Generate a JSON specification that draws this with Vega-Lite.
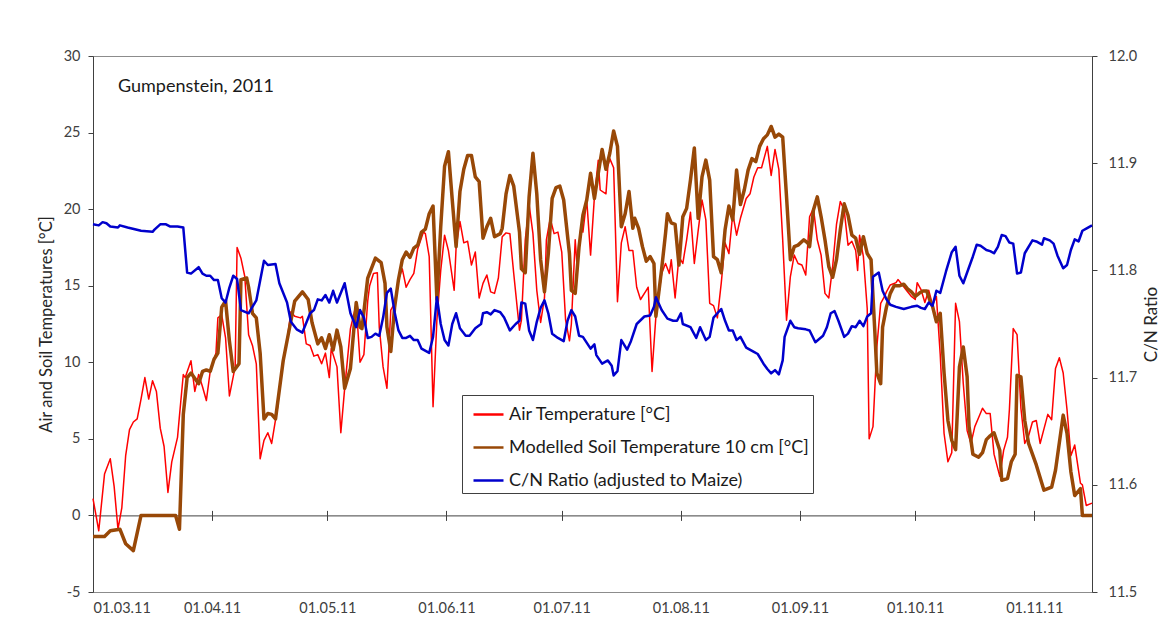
{
"$schema":"https://vega.github.io/schema/vega-lite/v6.json",
"width":999,"height":536,
"autosize":"none",
"padding":{"left":93,"top":56,"right":77,"bottom":41},
"config":{
"font":"Lato",
"view":{"stroke":"#8c8c8c"},
"axis":{"grid":false,"labelFont":"Lato","labelFontSize":14.5,"labelColor":"#404040","titleFont":"Lato","titleFontSize":16.5,"titleFontWeight":"normal","titleColor":"#262626","domainColor":"#404040","tickColor":"#404040"},
"legend":{"labelFont":"Lato","labelFontSize":18,"labelColor":"#1a1a1a","symbolType":"stroke","symbolSize":900,"symbolStrokeWidth":2.5,"padding":3,"rowPadding":7,"symbolOffset":7,"labelOffset":4,"strokeColor":"#404040","fillColor":"#ffffff","labelLimit":500}
},
"datasets":{
"air":[{"d":"2011-03-01","v":1.1},{"d":"2011-03-02T12:00Z","v":-1.0},{"d":"2011-03-04","v":2.7},{"d":"2011-03-05T12:00Z","v":3.7},{"d":"2011-03-06T12:00Z","v":1.9},{"d":"2011-03-07T12:00Z","v":-0.9},{"d":"2011-03-08T12:00Z","v":0.5},{"d":"2011-03-09T12:00Z","v":3.9},{"d":"2011-03-10T12:00Z","v":5.6},{"d":"2011-03-11T12:00Z","v":6.1},{"d":"2011-03-12T12:00Z","v":6.3},{"d":"2011-03-13T12:00Z","v":7.6},{"d":"2011-03-14T12:00Z","v":9.0},{"d":"2011-03-15T12:00Z","v":7.6},{"d":"2011-03-16T12:00Z","v":8.8},{"d":"2011-03-17T12:00Z","v":8.1},{"d":"2011-03-18T12:00Z","v":5.7},{"d":"2011-03-19T12:00Z","v":4.5},{"d":"2011-03-20T12:00Z","v":1.5},{"d":"2011-03-21T12:00Z","v":3.5},{"d":"2011-03-23","v":5.1},{"d":"2011-03-23T12:00Z","v":6.5},{"d":"2011-03-24T12:00Z","v":9.2},{"d":"2011-03-25","v":9.0},{"d":"2011-03-26T12:00Z","v":10.1},{"d":"2011-03-27T12:00Z","v":8.1},{"d":"2011-03-28T12:00Z","v":9.2},{"d":"2011-03-29T12:00Z","v":8.4},{"d":"2011-03-30T12:00Z","v":7.5},{"d":"2011-03-31T12:00Z","v":9.4},{"d":"2011-04-02","v":10.6},{"d":"2011-04-02T12:00Z","v":12.9},{"d":"2011-04-03T12:00Z","v":13.1},{"d":"2011-04-04T12:00Z","v":11.6},{"d":"2011-04-05T12:00Z","v":7.8},{"d":"2011-04-07","v":9.7},{"d":"2011-04-07T12:00Z","v":17.5},{"d":"2011-04-08T12:00Z","v":16.8},{"d":"2011-04-09T12:00Z","v":15.6},{"d":"2011-04-10T12:00Z","v":11.8},{"d":"2011-04-11T12:00Z","v":11.1},{"d":"2011-04-12T12:00Z","v":9.9},{"d":"2011-04-13T12:00Z","v":3.7},{"d":"2011-04-14T12:00Z","v":4.9},{"d":"2011-04-15T12:00Z","v":5.4},{"d":"2011-04-16T12:00Z","v":4.7},{"d":"2011-04-18","v":7.0},{"d":"2011-04-19","v":9.3},{"d":"2011-04-20T12:00Z","v":11.4},{"d":"2011-04-21T12:00Z","v":13.3},{"d":"2011-04-22T12:00Z","v":13.0},{"d":"2011-04-24","v":12.9},{"d":"2011-04-24T12:00Z","v":13.0},{"d":"2011-04-25T12:00Z","v":11.2},{"d":"2011-04-26T12:00Z","v":11.1},{"d":"2011-04-27T12:00Z","v":10.4},{"d":"2011-04-28T12:00Z","v":10.5},{"d":"2011-04-29T12:00Z","v":9.9},{"d":"2011-04-30T12:00Z","v":10.6},{"d":"2011-05-01T12:00Z","v":9.0},{"d":"2011-05-02","v":10.9},{"d":"2011-05-03T12:00Z","v":9.7},{"d":"2011-05-04T12:00Z","v":5.4},{"d":"2011-05-05T12:00Z","v":8.3},{"d":"2011-05-07","v":12.2},{"d":"2011-05-08T12:00Z","v":13.8},{"d":"2011-05-09T12:00Z","v":10.0},{"d":"2011-05-10T12:00Z","v":10.5},{"d":"2011-05-11T12:00Z","v":14.0},{"d":"2011-05-12","v":15.0},{"d":"2011-05-13","v":15.8},{"d":"2011-05-14","v":15.85},{"d":"2011-05-14T12:00Z","v":12.3},{"d":"2011-05-15T12:00Z","v":9.7},{"d":"2011-05-16T12:00Z","v":8.3},{"d":"2011-05-17T12:00Z","v":13.4},{"d":"2011-05-18T12:00Z","v":13.85},{"d":"2011-05-19T12:00Z","v":15.4},{"d":"2011-05-20T12:00Z","v":16.1},{"d":"2011-05-21T12:00Z","v":14.9},{"d":"2011-05-22T12:00Z","v":15.4},{"d":"2011-05-23T12:00Z","v":15.8},{"d":"2011-05-24T12:00Z","v":17.4},{"d":"2011-05-26","v":18.5},{"d":"2011-05-26T12:00Z","v":18.4},{"d":"2011-05-27T12:00Z","v":16.9},{"d":"2011-05-28T12:00Z","v":7.1},{"d":"2011-05-29T12:00Z","v":12.75},{"d":"2011-05-30T12:00Z","v":16.0},{"d":"2011-05-31T12:00Z","v":18.3},{"d":"2011-06-01T12:00Z","v":17.3},{"d":"2011-06-03","v":14.7},{"d":"2011-06-03T12:00Z","v":17.5},{"d":"2011-06-04T12:00Z","v":19.2},{"d":"2011-06-05T12:00Z","v":17.8},{"d":"2011-06-06T12:00Z","v":17.9},{"d":"2011-06-07T12:00Z","v":16.35},{"d":"2011-06-08T12:00Z","v":17.2},{"d":"2011-06-09T12:00Z","v":14.2},{"d":"2011-06-10T12:00Z","v":15.15},{"d":"2011-06-11T12:00Z","v":15.7},{"d":"2011-06-12T12:00Z","v":14.6},{"d":"2011-06-13T12:00Z","v":14.5},{"d":"2011-06-14T12:00Z","v":15.5},{"d":"2011-06-15T12:00Z","v":18.2},{"d":"2011-06-16T12:00Z","v":18.45},{"d":"2011-06-17T12:00Z","v":18.4},{"d":"2011-06-18T12:00Z","v":15.8},{"d":"2011-06-20","v":12.1},{"d":"2011-06-20T12:00Z","v":12.75},{"d":"2011-06-21T12:00Z","v":18.0},{"d":"2011-06-22T12:00Z","v":20.3},{"d":"2011-06-23T12:00Z","v":18.4},{"d":"2011-06-24T12:00Z","v":14.7},{"d":"2011-06-25T12:00Z","v":12.6},{"d":"2011-06-26T12:00Z","v":14.2},{"d":"2011-06-27","v":18.0},{"d":"2011-06-28","v":19.4},{"d":"2011-06-29","v":18.4},{"d":"2011-06-30","v":18.5},{"d":"2011-07-01","v":17.2},{"d":"2011-07-02","v":12.75},{"d":"2011-07-03","v":11.4},{"d":"2011-07-03T12:00Z","v":12.5},{"d":"2011-07-04T12:00Z","v":18.0},{"d":"2011-07-05","v":16.2},{"d":"2011-07-06","v":18.85},{"d":"2011-07-06T12:00Z","v":18.5},{"d":"2011-07-07T12:00Z","v":20.6},{"d":"2011-07-08T12:00Z","v":17.0},{"d":"2011-07-09T12:00Z","v":20.8},{"d":"2011-07-10T12:00Z","v":23.2},{"d":"2011-07-11","v":21.25},{"d":"2011-07-12T12:00Z","v":21.0},{"d":"2011-07-13","v":22.8},{"d":"2011-07-13T12:00Z","v":23.3},{"d":"2011-07-14T12:00Z","v":22.7},{"d":"2011-07-15T12:00Z","v":13.95},{"d":"2011-07-16T12:00Z","v":17.8},{"d":"2011-07-17T12:00Z","v":18.85},{"d":"2011-07-18T12:00Z","v":17.3},{"d":"2011-07-19T12:00Z","v":17.3},{"d":"2011-07-20T12:00Z","v":14.9},{"d":"2011-07-21T12:00Z","v":14.1},{"d":"2011-07-23","v":14.7},{"d":"2011-07-23T12:00Z","v":14.9},{"d":"2011-07-24T12:00Z","v":9.4},{"d":"2011-07-25T12:00Z","v":13.0},{"d":"2011-07-27","v":15.8},{"d":"2011-07-28","v":16.45},{"d":"2011-07-29","v":15.8},{"d":"2011-07-29T12:00Z","v":16.7},{"d":"2011-07-30T12:00Z","v":14.2},{"d":"2011-07-31T12:00Z","v":16.9},{"d":"2011-08-01T12:00Z","v":16.45},{"d":"2011-08-02T12:00Z","v":18.0},{"d":"2011-08-03T12:00Z","v":19.8},{"d":"2011-08-04T12:00Z","v":16.45},{"d":"2011-08-05T12:00Z","v":18.6},{"d":"2011-08-06T12:00Z","v":20.6},{"d":"2011-08-07T12:00Z","v":19.3},{"d":"2011-08-08T12:00Z","v":13.85},{"d":"2011-08-09T12:00Z","v":13.7},{"d":"2011-08-10T12:00Z","v":12.9},{"d":"2011-08-11T12:00Z","v":15.15},{"d":"2011-08-12T12:00Z","v":17.8},{"d":"2011-08-13T12:00Z","v":17.1},{"d":"2011-08-14T12:00Z","v":19.7},{"d":"2011-08-15T12:00Z","v":18.3},{"d":"2011-08-16T12:00Z","v":19.4},{"d":"2011-08-18","v":20.7},{"d":"2011-08-19","v":21.0},{"d":"2011-08-20","v":22.1},{"d":"2011-08-21","v":22.7},{"d":"2011-08-22","v":22.7},{"d":"2011-08-23T12:00Z","v":24.1},{"d":"2011-08-24T12:00Z","v":22.2},{"d":"2011-08-25T12:00Z","v":23.9},{"d":"2011-08-26T12:00Z","v":22.6},{"d":"2011-08-27T12:00Z","v":18.0},{"d":"2011-08-28T12:00Z","v":12.75},{"d":"2011-08-29T12:00Z","v":15.6},{"d":"2011-08-30T12:00Z","v":17.0},{"d":"2011-08-31T12:00Z","v":16.45},{"d":"2011-09-01T12:00Z","v":16.35},{"d":"2011-09-02T12:00Z","v":15.7},{"d":"2011-09-03T12:00Z","v":19.5},{"d":"2011-09-04T12:00Z","v":20.05},{"d":"2011-09-05T12:00Z","v":18.0},{"d":"2011-09-06T12:00Z","v":17.0},{"d":"2011-09-07T12:00Z","v":14.5},{"d":"2011-09-08T12:00Z","v":14.2},{"d":"2011-09-09T12:00Z","v":16.25},{"d":"2011-09-10T12:00Z","v":19.0},{"d":"2011-09-11T12:00Z","v":20.5},{"d":"2011-09-12T12:00Z","v":19.95},{"d":"2011-09-13T12:00Z","v":17.65},{"d":"2011-09-14T12:00Z","v":17.9},{"d":"2011-09-15T12:00Z","v":17.3},{"d":"2011-09-16","v":16.0},{"d":"2011-09-16T12:00Z","v":18.3},{"d":"2011-09-17T12:00Z","v":16.9},{"d":"2011-09-18T12:00Z","v":13.5},{"d":"2011-09-19","v":5.0},{"d":"2011-09-20","v":5.8},{"d":"2011-09-21","v":11.0},{"d":"2011-09-22","v":13.85},{"d":"2011-09-23","v":14.3},{"d":"2011-09-23T12:00Z","v":14.6},{"d":"2011-09-24T12:00Z","v":15.05},{"d":"2011-09-26","v":15.2},{"d":"2011-09-26T12:00Z","v":15.4},{"d":"2011-09-27T12:00Z","v":15.1},{"d":"2011-09-29","v":14.6},{"d":"2011-09-30","v":14.3},{"d":"2011-10-01","v":14.1},{"d":"2011-10-01T12:00Z","v":15.2},{"d":"2011-10-02T12:00Z","v":14.75},{"d":"2011-10-03T12:00Z","v":13.9},{"d":"2011-10-04T12:00Z","v":14.7},{"d":"2011-10-05T12:00Z","v":13.75},{"d":"2011-10-06T12:00Z","v":14.3},{"d":"2011-10-07T12:00Z","v":10.5},{"d":"2011-10-08T12:00Z","v":5.35},{"d":"2011-10-09T12:00Z","v":3.5},{"d":"2011-10-10T12:00Z","v":4.1},{"d":"2011-10-11T12:00Z","v":13.85},{"d":"2011-10-12T12:00Z","v":12.65},{"d":"2011-10-13T12:00Z","v":8.6},{"d":"2011-10-14T12:00Z","v":5.55},{"d":"2011-10-15T12:00Z","v":4.7},{"d":"2011-10-16T12:00Z","v":5.8},{"d":"2011-10-17T12:00Z","v":6.4},{"d":"2011-10-18T12:00Z","v":7.0},{"d":"2011-10-19T12:00Z","v":6.65},{"d":"2011-10-20T12:00Z","v":6.65},{"d":"2011-10-21T12:00Z","v":4.0},{"d":"2011-10-23","v":2.55},{"d":"2011-10-24","v":4.25},{"d":"2011-10-25","v":5.1},{"d":"2011-10-25T12:00Z","v":6.9},{"d":"2011-10-26T12:00Z","v":12.2},{"d":"2011-10-27T12:00Z","v":11.8},{"d":"2011-10-28T12:00Z","v":7.0},{"d":"2011-10-29T12:00Z","v":4.7},{"d":"2011-10-30T12:00Z","v":5.2},{"d":"2011-10-31T12:00Z","v":6.1},{"d":"2011-11-01T12:00Z","v":6.2},{"d":"2011-11-02T12:00Z","v":4.7},{"d":"2011-11-03T12:00Z","v":5.65},{"d":"2011-11-04T12:00Z","v":6.6},{"d":"2011-11-05T12:00Z","v":6.25},{"d":"2011-11-06T12:00Z","v":9.6},{"d":"2011-11-07T12:00Z","v":10.3},{"d":"2011-11-08T12:00Z","v":9.3},{"d":"2011-11-09T12:00Z","v":6.9},{"d":"2011-11-10T12:00Z","v":3.9},{"d":"2011-11-11T12:00Z","v":4.6},{"d":"2011-11-13","v":2.1},{"d":"2011-11-13T12:00Z","v":2.0},{"d":"2011-11-14T12:00Z","v":0.65},{"d":"2011-11-16","v":0.8}],
"soil":[{"d":"2011-03-01","v":-1.37},{"d":"2011-03-04","v":-1.37},{"d":"2011-03-05T12:00Z","v":-1.0},{"d":"2011-03-08","v":-0.9},{"d":"2011-03-09T12:00Z","v":-1.85},{"d":"2011-03-11T12:00Z","v":-2.3},{"d":"2011-03-13T12:00Z","v":0},{"d":"2011-03-22T12:00Z","v":0},{"d":"2011-03-23T12:00Z","v":-0.9},{"d":"2011-03-24T12:00Z","v":6.6},{"d":"2011-03-25T12:00Z","v":9.0},{"d":"2011-03-26T12:00Z","v":9.3},{"d":"2011-03-28T12:00Z","v":8.6},{"d":"2011-03-29T12:00Z","v":9.4},{"d":"2011-03-30T12:00Z","v":9.5},{"d":"2011-03-31T12:00Z","v":9.4},{"d":"2011-04-01T12:00Z","v":10.2},{"d":"2011-04-02T12:00Z","v":10.6},{"d":"2011-04-03T12:00Z","v":13.6},{"d":"2011-04-04T12:00Z","v":14.0},{"d":"2011-04-05T12:00Z","v":11.4},{"d":"2011-04-06T12:00Z","v":9.4},{"d":"2011-04-08","v":9.9},{"d":"2011-04-08T12:00Z","v":15.4},{"d":"2011-04-10","v":15.5},{"d":"2011-04-10T12:00Z","v":14.9},{"d":"2011-04-11T12:00Z","v":13.2},{"d":"2011-04-12T12:00Z","v":12.9},{"d":"2011-04-13T12:00Z","v":10.6},{"d":"2011-04-14T12:00Z","v":6.3},{"d":"2011-04-15T12:00Z","v":6.65},{"d":"2011-04-16T12:00Z","v":6.6},{"d":"2011-04-17T12:00Z","v":6.3},{"d":"2011-04-19T12:00Z","v":10.1},{"d":"2011-04-22T12:00Z","v":14.0},{"d":"2011-04-24T12:00Z","v":14.6},{"d":"2011-04-26","v":14.1},{"d":"2011-04-27","v":12.6},{"d":"2011-04-28T12:00Z","v":11.2},{"d":"2011-04-29T12:00Z","v":11.6},{"d":"2011-04-30T12:00Z","v":10.9},{"d":"2011-05-01T12:00Z","v":11.8},{"d":"2011-05-02T12:00Z","v":10.8},{"d":"2011-05-03T12:00Z","v":12.1},{"d":"2011-05-04T12:00Z","v":11.0},{"d":"2011-05-05T12:00Z","v":8.3},{"d":"2011-05-07","v":9.6},{"d":"2011-05-08T12:00Z","v":13.9},{"d":"2011-05-09T12:00Z","v":12.3},{"d":"2011-05-10","v":12.2},{"d":"2011-05-11T12:00Z","v":15.5},{"d":"2011-05-13T12:00Z","v":16.8},{"d":"2011-05-15","v":16.5},{"d":"2011-05-16","v":15.15},{"d":"2011-05-16T12:00Z","v":12.3},{"d":"2011-05-17T12:00Z","v":10.7},{"d":"2011-05-18T12:00Z","v":13.6},{"d":"2011-05-19T12:00Z","v":15.4},{"d":"2011-05-20T12:00Z","v":16.7},{"d":"2011-05-21T12:00Z","v":17.2},{"d":"2011-05-22T12:00Z","v":16.85},{"d":"2011-05-23T12:00Z","v":17.45},{"d":"2011-05-24T12:00Z","v":17.65},{"d":"2011-05-25T12:00Z","v":18.5},{"d":"2011-05-26T12:00Z","v":18.7},{"d":"2011-05-27T12:00Z","v":19.7},{"d":"2011-05-28T12:00Z","v":20.2},{"d":"2011-05-29T12:00Z","v":14.1},{"d":"2011-05-30T12:00Z","v":18.85},{"d":"2011-05-31T12:00Z","v":22.8},{"d":"2011-06-01T12:00Z","v":23.75},{"d":"2011-06-02T12:00Z","v":20.6},{"d":"2011-06-03T12:00Z","v":17.55},{"d":"2011-06-04T12:00Z","v":21.15},{"d":"2011-06-05T12:00Z","v":22.6},{"d":"2011-06-06T12:00Z","v":23.5},{"d":"2011-06-07T12:00Z","v":23.5},{"d":"2011-06-08T12:00Z","v":22.1},{"d":"2011-06-09T12:00Z","v":21.8},{"d":"2011-06-10T12:00Z","v":18.1},{"d":"2011-06-11T12:00Z","v":18.85},{"d":"2011-06-12T12:00Z","v":19.4},{"d":"2011-06-13T12:00Z","v":18.2},{"d":"2011-06-15","v":18.4},{"d":"2011-06-15T12:00Z","v":18.75},{"d":"2011-06-16T12:00Z","v":21.0},{"d":"2011-06-17T12:00Z","v":22.2},{"d":"2011-06-18T12:00Z","v":21.5},{"d":"2011-06-20","v":18.5},{"d":"2011-06-20T12:00Z","v":16.1},{"d":"2011-06-21T12:00Z","v":15.85},{"d":"2011-06-22T12:00Z","v":20.8},{"d":"2011-06-23T12:00Z","v":23.65},{"d":"2011-06-24T12:00Z","v":21.0},{"d":"2011-06-25T12:00Z","v":16.7},{"d":"2011-06-26T12:00Z","v":14.6},{"d":"2011-06-27T12:00Z","v":17.1},{"d":"2011-06-28T12:00Z","v":20.7},{"d":"2011-06-29T12:00Z","v":21.4},{"d":"2011-06-30T12:00Z","v":21.5},{"d":"2011-07-01T12:00Z","v":20.6},{"d":"2011-07-03","v":17.1},{"d":"2011-07-03T12:00Z","v":14.7},{"d":"2011-07-04T12:00Z","v":14.5},{"d":"2011-07-05T12:00Z","v":17.55},{"d":"2011-07-06T12:00Z","v":19.6},{"d":"2011-07-07T12:00Z","v":20.6},{"d":"2011-07-08T12:00Z","v":22.35},{"d":"2011-07-09T12:00Z","v":20.7},{"d":"2011-07-10T12:00Z","v":22.35},{"d":"2011-07-11T12:00Z","v":23.9},{"d":"2011-07-12T12:00Z","v":22.6},{"d":"2011-07-13T12:00Z","v":23.65},{"d":"2011-07-14T12:00Z","v":25.1},{"d":"2011-07-15T12:00Z","v":24.1},{"d":"2011-07-16T12:00Z","v":18.85},{"d":"2011-07-17T12:00Z","v":19.7},{"d":"2011-07-18T12:00Z","v":21.15},{"d":"2011-07-19T12:00Z","v":18.75},{"d":"2011-07-20","v":19.4},{"d":"2011-07-21","v":18.75},{"d":"2011-07-22","v":17.55},{"d":"2011-07-23","v":16.6},{"d":"2011-07-24","v":16.9},{"d":"2011-07-25","v":16.45},{"d":"2011-07-25T12:00Z","v":13.0},{"d":"2011-07-27","v":16.1},{"d":"2011-07-28","v":18.4},{"d":"2011-07-28T12:00Z","v":19.7},{"d":"2011-07-29T12:00Z","v":19.1},{"d":"2011-07-30T12:00Z","v":19.0},{"d":"2011-07-31T12:00Z","v":16.35},{"d":"2011-08-01T12:00Z","v":19.5},{"d":"2011-08-02T12:00Z","v":20.05},{"d":"2011-08-03T12:00Z","v":21.9},{"d":"2011-08-04T12:00Z","v":24.0},{"d":"2011-08-05T12:00Z","v":19.4},{"d":"2011-08-06T12:00Z","v":22.1},{"d":"2011-08-07T12:00Z","v":23.2},{"d":"2011-08-08T12:00Z","v":21.9},{"d":"2011-08-09T12:00Z","v":16.9},{"d":"2011-08-10T12:00Z","v":16.7},{"d":"2011-08-11T12:00Z","v":15.85},{"d":"2011-08-12T12:00Z","v":18.65},{"d":"2011-08-13T12:00Z","v":20.2},{"d":"2011-08-14T12:00Z","v":19.3},{"d":"2011-08-15T12:00Z","v":22.55},{"d":"2011-08-16T12:00Z","v":20.3},{"d":"2011-08-17T12:00Z","v":21.25},{"d":"2011-08-18T12:00Z","v":22.55},{"d":"2011-08-19T12:00Z","v":23.3},{"d":"2011-08-20T12:00Z","v":23.1},{"d":"2011-08-21T12:00Z","v":24.1},{"d":"2011-08-22T12:00Z","v":24.6},{"d":"2011-08-23T12:00Z","v":24.85},{"d":"2011-08-24T12:00Z","v":25.4},{"d":"2011-08-25T12:00Z","v":24.7},{"d":"2011-08-26T12:00Z","v":24.9},{"d":"2011-08-27T12:00Z","v":24.7},{"d":"2011-08-28T12:00Z","v":20.8},{"d":"2011-08-29T12:00Z","v":16.7},{"d":"2011-08-30T12:00Z","v":17.55},{"d":"2011-08-31T12:00Z","v":17.65},{"d":"2011-09-02","v":18.0},{"d":"2011-09-03","v":17.8},{"d":"2011-09-03T12:00Z","v":17.55},{"d":"2011-09-04T12:00Z","v":19.95},{"d":"2011-09-05T12:00Z","v":20.8},{"d":"2011-09-06T12:00Z","v":19.5},{"d":"2011-09-07T12:00Z","v":18.0},{"d":"2011-09-08T12:00Z","v":16.25},{"d":"2011-09-09T12:00Z","v":15.55},{"d":"2011-09-10T12:00Z","v":16.7},{"d":"2011-09-11T12:00Z","v":18.65},{"d":"2011-09-12T12:00Z","v":20.35},{"d":"2011-09-13T12:00Z","v":19.6},{"d":"2011-09-14T12:00Z","v":18.3},{"d":"2011-09-15T12:00Z","v":18.1},{"d":"2011-09-16T12:00Z","v":17.05},{"d":"2011-09-17T12:00Z","v":18.2},{"d":"2011-09-18T12:00Z","v":17.1},{"d":"2011-09-19T12:00Z","v":16.7},{"d":"2011-09-20T12:00Z","v":11.9},{"d":"2011-09-21","v":9.3},{"d":"2011-09-22","v":8.6},{"d":"2011-09-22T12:00Z","v":12.3},{"d":"2011-09-23T12:00Z","v":13.6},{"d":"2011-09-24T12:00Z","v":14.5},{"d":"2011-09-25T12:00Z","v":15.0},{"d":"2011-09-27","v":15.0},{"d":"2011-09-28","v":15.1},{"d":"2011-09-29","v":14.8},{"d":"2011-09-30","v":14.6},{"d":"2011-10-01","v":14.3},{"d":"2011-10-02","v":14.5},{"d":"2011-10-03","v":14.65},{"d":"2011-10-04","v":14.65},{"d":"2011-10-05","v":13.9},{"d":"2011-10-05T12:00Z","v":13.65},{"d":"2011-10-06T12:00Z","v":12.65},{"d":"2011-10-07T12:00Z","v":13.2},{"d":"2011-10-08T12:00Z","v":9.3},{"d":"2011-10-09T12:00Z","v":6.2},{"d":"2011-10-10T12:00Z","v":4.9},{"d":"2011-10-11T12:00Z","v":4.3},{"d":"2011-10-12T12:00Z","v":9.7},{"d":"2011-10-13T12:00Z","v":11.0},{"d":"2011-10-14T12:00Z","v":9.05},{"d":"2011-10-15","v":5.8},{"d":"2011-10-16","v":4.0},{"d":"2011-10-17T12:00Z","v":3.8},{"d":"2011-10-18T12:00Z","v":4.1},{"d":"2011-10-19T12:00Z","v":4.95},{"d":"2011-10-20T12:00Z","v":5.2},{"d":"2011-10-21T12:00Z","v":5.4},{"d":"2011-10-23","v":4.25},{"d":"2011-10-23T12:00Z","v":2.3},{"d":"2011-10-25","v":2.4},{"d":"2011-10-26","v":3.5},{"d":"2011-10-27","v":4.0},{"d":"2011-10-27T12:00Z","v":9.15},{"d":"2011-10-28T12:00Z","v":9.05},{"d":"2011-10-29T12:00Z","v":6.2},{"d":"2011-10-30T12:00Z","v":4.7},{"d":"2011-10-31T12:00Z","v":4.0},{"d":"2011-11-01T12:00Z","v":3.3},{"d":"2011-11-03T12:00Z","v":1.65},{"d":"2011-11-05T12:00Z","v":1.85},{"d":"2011-11-06T12:00Z","v":2.95},{"d":"2011-11-08T12:00Z","v":6.55},{"d":"2011-11-09T12:00Z","v":5.35},{"d":"2011-11-10T12:00Z","v":2.85},{"d":"2011-11-11T12:00Z","v":1.3},{"d":"2011-11-13","v":1.75},{"d":"2011-11-13T12:00Z","v":0},{"d":"2011-11-16","v":0}],
"cn":[{"d":"2011-03-01","v":11.843},{"d":"2011-03-02T12:00Z","v":11.842},{"d":"2011-03-03T12:00Z","v":11.845},{"d":"2011-03-04T12:00Z","v":11.844},{"d":"2011-03-05T12:00Z","v":11.841},{"d":"2011-03-07T12:00Z","v":11.84},{"d":"2011-03-08","v":11.842},{"d":"2011-03-10","v":11.84},{"d":"2011-03-13T12:00Z","v":11.837},{"d":"2011-03-16T12:00Z","v":11.836},{"d":"2011-03-17","v":11.838},{"d":"2011-03-18T12:00Z","v":11.843},{"d":"2011-03-20","v":11.843},{"d":"2011-03-21","v":11.841},{"d":"2011-03-23","v":11.841},{"d":"2011-03-24T12:00Z","v":11.84},{"d":"2011-03-25T12:00Z","v":11.798},{"d":"2011-03-26T12:00Z","v":11.797},{"d":"2011-03-28T12:00Z","v":11.803},{"d":"2011-03-29T12:00Z","v":11.797},{"d":"2011-03-30T12:00Z","v":11.795},{"d":"2011-03-31T12:00Z","v":11.795},{"d":"2011-04-01T12:00Z","v":11.791},{"d":"2011-04-02T12:00Z","v":11.791},{"d":"2011-04-03T12:00Z","v":11.774},{"d":"2011-04-04T12:00Z","v":11.77},{"d":"2011-04-05T12:00Z","v":11.784},{"d":"2011-04-06T12:00Z","v":11.795},{"d":"2011-04-07T12:00Z","v":11.792},{"d":"2011-04-08T12:00Z","v":11.763},{"d":"2011-04-10T12:00Z","v":11.76},{"d":"2011-04-12T12:00Z","v":11.772},{"d":"2011-04-14T12:00Z","v":11.809},{"d":"2011-04-15T12:00Z","v":11.805},{"d":"2011-04-17T12:00Z","v":11.806},{"d":"2011-04-18T12:00Z","v":11.788},{"d":"2011-04-20T12:00Z","v":11.77},{"d":"2011-04-21T12:00Z","v":11.752},{"d":"2011-04-23","v":11.745},{"d":"2011-04-24T12:00Z","v":11.742},{"d":"2011-04-26T12:00Z","v":11.76},{"d":"2011-04-27T12:00Z","v":11.763},{"d":"2011-04-28T12:00Z","v":11.773},{"d":"2011-04-29T12:00Z","v":11.772},{"d":"2011-04-30T12:00Z","v":11.777},{"d":"2011-05-01T12:00Z","v":11.77},{"d":"2011-05-02T12:00Z","v":11.781},{"d":"2011-05-03T12:00Z","v":11.77},{"d":"2011-05-05T12:00Z","v":11.788},{"d":"2011-05-07","v":11.76},{"d":"2011-05-08T12:00Z","v":11.747},{"d":"2011-05-09T12:00Z","v":11.763},{"d":"2011-05-10T12:00Z","v":11.756},{"d":"2011-05-11T12:00Z","v":11.737},{"d":"2011-05-12T12:00Z","v":11.738},{"d":"2011-05-13T12:00Z","v":11.741},{"d":"2011-05-14T12:00Z","v":11.739},{"d":"2011-05-15T12:00Z","v":11.756},{"d":"2011-05-16T12:00Z","v":11.779},{"d":"2011-05-17T12:00Z","v":11.783},{"d":"2011-05-18T12:00Z","v":11.761},{"d":"2011-05-19T12:00Z","v":11.744},{"d":"2011-05-20T12:00Z","v":11.737},{"d":"2011-05-21T12:00Z","v":11.737},{"d":"2011-05-22T12:00Z","v":11.739},{"d":"2011-05-23T12:00Z","v":11.735},{"d":"2011-05-24T12:00Z","v":11.735},{"d":"2011-05-25T12:00Z","v":11.727},{"d":"2011-05-27T12:00Z","v":11.723},{"d":"2011-05-28T12:00Z","v":11.738},{"d":"2011-05-29T12:00Z","v":11.775},{"d":"2011-05-30T12:00Z","v":11.75},{"d":"2011-05-31T12:00Z","v":11.735},{"d":"2011-06-01T12:00Z","v":11.73},{"d":"2011-06-02T12:00Z","v":11.75},{"d":"2011-06-03T12:00Z","v":11.76},{"d":"2011-06-04T12:00Z","v":11.746},{"d":"2011-06-06","v":11.739},{"d":"2011-06-07","v":11.739},{"d":"2011-06-08T12:00Z","v":11.746},{"d":"2011-06-10","v":11.75},{"d":"2011-06-10T12:00Z","v":11.76},{"d":"2011-06-11T12:00Z","v":11.761},{"d":"2011-06-12T12:00Z","v":11.759},{"d":"2011-06-13T12:00Z","v":11.763},{"d":"2011-06-15","v":11.761},{"d":"2011-06-16","v":11.756},{"d":"2011-06-17T12:00Z","v":11.744},{"d":"2011-06-19","v":11.75},{"d":"2011-06-20","v":11.753},{"d":"2011-06-20T12:00Z","v":11.77},{"d":"2011-06-21T12:00Z","v":11.769},{"d":"2011-06-22T12:00Z","v":11.744},{"d":"2011-06-23T12:00Z","v":11.735},{"d":"2011-06-24T12:00Z","v":11.752},{"d":"2011-06-25T12:00Z","v":11.765},{"d":"2011-06-26T12:00Z","v":11.772},{"d":"2011-06-27T12:00Z","v":11.76},{"d":"2011-06-28T12:00Z","v":11.741},{"d":"2011-06-30","v":11.737},{"d":"2011-07-01T12:00Z","v":11.734},{"d":"2011-07-02T12:00Z","v":11.753},{"d":"2011-07-03T12:00Z","v":11.763},{"d":"2011-07-04T12:00Z","v":11.757},{"d":"2011-07-05T12:00Z","v":11.739},{"d":"2011-07-06T12:00Z","v":11.738},{"d":"2011-07-08T12:00Z","v":11.727},{"d":"2011-07-09T12:00Z","v":11.731},{"d":"2011-07-10","v":11.721},{"d":"2011-07-11T12:00Z","v":11.713},{"d":"2011-07-13","v":11.716},{"d":"2011-07-14","v":11.711},{"d":"2011-07-14T12:00Z","v":11.702},{"d":"2011-07-15T12:00Z","v":11.706},{"d":"2011-07-16T12:00Z","v":11.735},{"d":"2011-07-18","v":11.726},{"d":"2011-07-19","v":11.734},{"d":"2011-07-20T12:00Z","v":11.75},{"d":"2011-07-22T12:00Z","v":11.757},{"d":"2011-07-24","v":11.758},{"d":"2011-07-25","v":11.766},{"d":"2011-07-25T12:00Z","v":11.775},{"d":"2011-07-27","v":11.763},{"d":"2011-07-28T12:00Z","v":11.755},{"d":"2011-07-30","v":11.753},{"d":"2011-07-31","v":11.753},{"d":"2011-08-01","v":11.76},{"d":"2011-08-01T12:00Z","v":11.75},{"d":"2011-08-03T12:00Z","v":11.747},{"d":"2011-08-05","v":11.737},{"d":"2011-08-06","v":11.747},{"d":"2011-08-07T12:00Z","v":11.735},{"d":"2011-08-08T12:00Z","v":11.738},{"d":"2011-08-09T12:00Z","v":11.756},{"d":"2011-08-10T12:00Z","v":11.76},{"d":"2011-08-11T12:00Z","v":11.764},{"d":"2011-08-12T12:00Z","v":11.753},{"d":"2011-08-13T12:00Z","v":11.744},{"d":"2011-08-14T12:00Z","v":11.744},{"d":"2011-08-15T12:00Z","v":11.735},{"d":"2011-08-16T12:00Z","v":11.738},{"d":"2011-08-18","v":11.728},{"d":"2011-08-20","v":11.724},{"d":"2011-08-21","v":11.722},{"d":"2011-08-22T12:00Z","v":11.713},{"d":"2011-08-23T12:00Z","v":11.708},{"d":"2011-08-24T12:00Z","v":11.704},{"d":"2011-08-25T12:00Z","v":11.707},{"d":"2011-08-26T12:00Z","v":11.703},{"d":"2011-08-27T12:00Z","v":11.716},{"d":"2011-08-28","v":11.738},{"d":"2011-08-29T12:00Z","v":11.753},{"d":"2011-08-30T12:00Z","v":11.747},{"d":"2011-08-31T12:00Z","v":11.746},{"d":"2011-09-02T12:00Z","v":11.745},{"d":"2011-09-03T12:00Z","v":11.744},{"d":"2011-09-05","v":11.733},{"d":"2011-09-07","v":11.739},{"d":"2011-09-08","v":11.747},{"d":"2011-09-09","v":11.76},{"d":"2011-09-10","v":11.762},{"d":"2011-09-11","v":11.753},{"d":"2011-09-12T12:00Z","v":11.738},{"d":"2011-09-13T12:00Z","v":11.741},{"d":"2011-09-14T12:00Z","v":11.748},{"d":"2011-09-15T12:00Z","v":11.747},{"d":"2011-09-16T12:00Z","v":11.753},{"d":"2011-09-17T12:00Z","v":11.748},{"d":"2011-09-18T12:00Z","v":11.757},{"d":"2011-09-19T12:00Z","v":11.76},{"d":"2011-09-20","v":11.794},{"d":"2011-09-21T12:00Z","v":11.798},{"d":"2011-09-22T12:00Z","v":11.781},{"d":"2011-09-23T12:00Z","v":11.773},{"d":"2011-09-24T12:00Z","v":11.768},{"d":"2011-09-26","v":11.766},{"d":"2011-09-28","v":11.764},{"d":"2011-09-30","v":11.766},{"d":"2011-10-01T12:00Z","v":11.767},{"d":"2011-10-02T12:00Z","v":11.765},{"d":"2011-10-03T12:00Z","v":11.764},{"d":"2011-10-04T12:00Z","v":11.77},{"d":"2011-10-05T12:00Z","v":11.767},{"d":"2011-10-06T12:00Z","v":11.781},{"d":"2011-10-07T12:00Z","v":11.779},{"d":"2011-10-09","v":11.799},{"d":"2011-10-10T12:00Z","v":11.817},{"d":"2011-10-11T12:00Z","v":11.822},{"d":"2011-10-12T12:00Z","v":11.795},{"d":"2011-10-13T12:00Z","v":11.788},{"d":"2011-10-14T12:00Z","v":11.798},{"d":"2011-10-16","v":11.813},{"d":"2011-10-17","v":11.824},{"d":"2011-10-18","v":11.823},{"d":"2011-10-19T12:00Z","v":11.819},{"d":"2011-10-20T12:00Z","v":11.818},{"d":"2011-10-21T12:00Z","v":11.816},{"d":"2011-10-22T12:00Z","v":11.822},{"d":"2011-10-23T12:00Z","v":11.833},{"d":"2011-10-24T12:00Z","v":11.832},{"d":"2011-10-25T12:00Z","v":11.826},{"d":"2011-10-26T12:00Z","v":11.825},{"d":"2011-10-27T12:00Z","v":11.797},{"d":"2011-10-28T12:00Z","v":11.798},{"d":"2011-10-29T12:00Z","v":11.816},{"d":"2011-10-31T12:00Z","v":11.828},{"d":"2011-11-01T12:00Z","v":11.827},{"d":"2011-11-03","v":11.824},{"d":"2011-11-03T12:00Z","v":11.83},{"d":"2011-11-05","v":11.828},{"d":"2011-11-06","v":11.825},{"d":"2011-11-07","v":11.814},{"d":"2011-11-08T12:00Z","v":11.802},{"d":"2011-11-09T12:00Z","v":11.805},{"d":"2011-11-10T12:00Z","v":11.819},{"d":"2011-11-11T12:00Z","v":11.829},{"d":"2011-11-12T12:00Z","v":11.827},{"d":"2011-11-13T12:00Z","v":11.837},{"d":"2011-11-14T12:00Z","v":11.839},{"d":"2011-11-16","v":11.842}],
"note":[{"label":"Gumpenstein, 2011"}]
},
"layer":[
{"data":{"name":"air"},
"mark":{"type":"line","strokeWidth":1.5,"strokeJoin":"round"},
"encoding":{
"x":{"field":"d","type":"temporal","scale":{"type":"utc","domain":[{"year":2011,"month":3,"date":1,"utc":true},{"year":2011,"month":11,"date":16,"utc":true}]},
"axis":{"orient":"bottom","offset":-76.6,"title":null,"labels":false,"domain":true,"ticks":true,"tickSize":5,"values":[{"year":2011,"month":3,"date":1,"utc":true},{"year":2011,"month":4,"date":1,"utc":true},{"year":2011,"month":5,"date":1,"utc":true},{"year":2011,"month":6,"date":1,"utc":true},{"year":2011,"month":7,"date":1,"utc":true},{"year":2011,"month":8,"date":1,"utc":true},{"year":2011,"month":9,"date":1,"utc":true},{"year":2011,"month":10,"date":1,"utc":true},{"year":2011,"month":11,"date":1,"utc":true}]}},
"y":{"field":"v","type":"quantitative","scale":{"domain":[-5,30],"nice":false,"zero":false},
"axis":{"orient":"left","values":[-5,0,5,10,15,20,25,30],"labelExpr":"'' + datum.value","tickSize":5,"labelPadding":8,"title":"Air and Soil Temperatures [°C]","titlePadding":9}},
"color":{"datum":"Air Temperature [°C]","type":"nominal",
"scale":{"domain":["Air Temperature [°C]","Modelled Soil Temperature 10 cm [°C]","C/N Ratio (adjusted to Maize)"],"range":["#ff0000","#984807","#0000cc"]},
"legend":{"title":null,"orient":"none","legendX":369,"legendY":339,"symbolSize":900,"symbolType":"stroke","symbolStrokeWidth":2.5}}
}},
{"data":{"name":"soil"},
"mark":{"type":"line","strokeWidth":3.5,"strokeJoin":"round"},
"encoding":{
"x":{"field":"d","type":"temporal","scale":{"type":"utc","domain":[{"year":2011,"month":3,"date":1,"utc":true},{"year":2011,"month":11,"date":16,"utc":true}]},
"axis":{"orient":"bottom","offset":-76.6,"title":null,"labels":false,"domain":false,"ticks":true,"tickSize":-5,"values":[{"year":2011,"month":3,"date":1,"utc":true},{"year":2011,"month":4,"date":1,"utc":true},{"year":2011,"month":5,"date":1,"utc":true},{"year":2011,"month":6,"date":1,"utc":true},{"year":2011,"month":7,"date":1,"utc":true},{"year":2011,"month":8,"date":1,"utc":true},{"year":2011,"month":9,"date":1,"utc":true},{"year":2011,"month":10,"date":1,"utc":true},{"year":2011,"month":11,"date":1,"utc":true}]}},
"y":{"field":"v","type":"quantitative","scale":{"domain":[-5,30],"nice":false,"zero":false},"axis":null},
"color":{"datum":"Modelled Soil Temperature 10 cm [°C]","type":"nominal"}
}},
{"data":{"name":"cn"},
"mark":{"type":"line","strokeWidth":2.5,"strokeJoin":"round"},
"encoding":{
"x":{"field":"d","type":"temporal","scale":{"type":"utc","domain":[{"year":2011,"month":3,"date":1,"utc":true},{"year":2011,"month":11,"date":16,"utc":true}]},
"axis":{"orient":"bottom","offset":0,"title":null,"labels":true,"domain":false,"ticks":false,"labelPadding":9,"format":"%d.%m.%y","values":[{"year":2011,"month":3,"date":1,"utc":true},{"year":2011,"month":4,"date":1,"utc":true},{"year":2011,"month":5,"date":1,"utc":true},{"year":2011,"month":6,"date":1,"utc":true},{"year":2011,"month":7,"date":1,"utc":true},{"year":2011,"month":8,"date":1,"utc":true},{"year":2011,"month":9,"date":1,"utc":true},{"year":2011,"month":10,"date":1,"utc":true},{"year":2011,"month":11,"date":1,"utc":true}]}},
"y":{"field":"v","type":"quantitative","scale":{"domain":[11.5,12.0],"nice":false,"zero":false},
"axis":{"orient":"right","values":[11.5,11.6,11.7,11.8,11.9,12.0],"format":".1f","tickSize":5,"labelPadding":11,"title":"C/N Ratio","titleFontSize":17,"titleAngle":270,"titlePadding":24}},
"color":{"datum":"C/N Ratio (adjusted to Maize)","type":"nominal"}
}},
{"data":{"name":"note"},
"mark":{"type":"text","align":"left","baseline":"middle","fontSize":18,"font":"Lato","color":"#1a1a1a"},
"encoding":{
"x":{"datum":{"year":2011,"month":3,"date":7,"hours":12,"utc":true},"type":"temporal","scale":{"type":"utc","domain":[{"year":2011,"month":3,"date":1,"utc":true},{"year":2011,"month":11,"date":16,"utc":true}]},"axis":null},
"y":{"datum":28,"type":"quantitative","scale":{"domain":[-5,30],"nice":false,"zero":false},"axis":null},
"text":{"field":"label"}
}}
],
"resolve":{"scale":{"y":"independent"},"axis":{"x":"independent","y":"independent"}}
}
